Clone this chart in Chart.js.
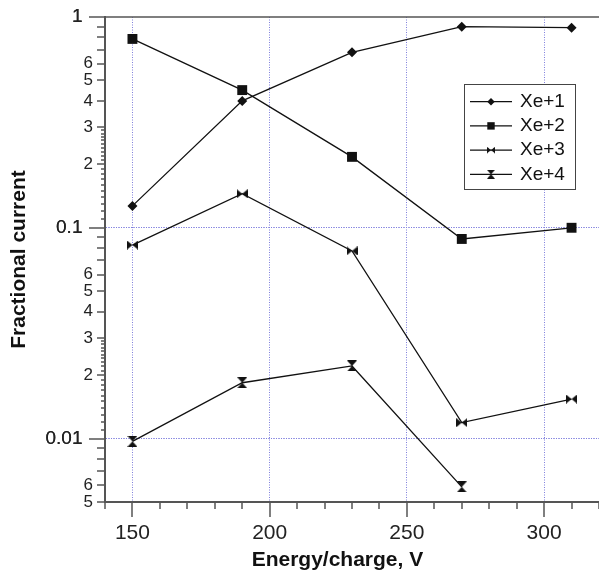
<!DOCTYPE html>
<html>
<head>
<meta charset="utf-8">
<script src="https://cdn.jsdelivr.net/npm/chart.js@4.4.0/dist/chart.umd.min.js"></script>
<style>
  html, body { margin: 0; padding: 0; background: #fff; }
  #chart { display: block; }
</style>
</head>
<body>
<canvas id="chart" width="599" height="573"></canvas>
<script>
/* ── Data ── */
const energies = [150, 190, 230, 270, 310];
const seriesNames = ['Xe+1', 'Xe+2', 'Xe+3', 'Xe+4'];
const xe1 = [0.127, 0.40, 0.68, 0.90, 0.89];
const xe2 = [0.787, 0.45, 0.217, 0.0885, 0.100];
const xe3 = [0.0828, 0.145, 0.0776, 0.0119, 0.0154];
const xe4 = [0.0097, 0.0184, 0.0221, 0.0059];

/* ── Tick labels ── */
const xLabelled = [150, 200, 250, 300];
const yDecades = [0.01, 0.1, 1];
const yMantissaLabelled = [2, 3, 4, 5, 6];

const FONT = "'Liberation Sans', Arial, sans-serif";
const GRID_BLUE = '#7f7fdc';
const AXIS = '#555';

// log ticks: decades, integer mantissas, and fine ones between 1 and 3
function buildLogTicks(min, max) {
  const out = [];
  for (let e = -3; e <= 0; e++) {
    const base = Math.pow(10, e);
    for (let m = 1; m < 10; m += 0.1) {
      const mm = Math.round(m * 10) / 10;
      const fine = mm !== Math.round(mm);
      if (fine && mm > 3) continue;
      const v = +(mm * base).toPrecision(3);
      if (v >= min - 1e-12 && v <= max + 1e-12) out.push(v);
    }
  }
  return out;
}

function mantissa(v) {
  const e = Math.floor(Math.log10(v) + 1e-9);
  return Math.round(v / Math.pow(10, e) * 10) / 10;
}
const isDecade = v => mantissa(v) === 1;

// custom point shapes
function bowtie(w, h, vertical) {
  const c = document.createElement('canvas');
  c.width = w; c.height = h;
  const g = c.getContext('2d');
  g.fillStyle = '#111';
  g.beginPath();
  if (vertical) {
    g.moveTo(0, 0); g.lineTo(w, 0); g.lineTo(w / 2, h / 2); g.closePath();
    g.moveTo(0, h); g.lineTo(w, h); g.lineTo(w / 2, h / 2); g.closePath();
  } else {
    g.moveTo(0, 0); g.lineTo(0, h); g.lineTo(w / 2, h / 2); g.closePath();
    g.moveTo(w, 0); g.lineTo(w, h); g.lineTo(w / 2, h / 2); g.closePath();
  }
  g.fill();
  return c;
}
const hBowtie = bowtie(11, 9, false);
const vBowtie = bowtie(10, 11, true);

const toPoints = ys => ys.map((y, i) => ({ x: energies[i], y }));

const datasets = [
  { label: seriesNames[0], data: toPoints(xe1), pointStyle: 'rectRot', pointRadius: 5 },
  { label: seriesNames[1], data: toPoints(xe2), pointStyle: 'rect', pointRadius: 7 },
  { label: seriesNames[2], data: toPoints(xe3), pointStyle: hBowtie, pointRadius: 5 },
  { label: seriesNames[3], data: toPoints(xe4), pointStyle: vBowtie, pointRadius: 5 },
].map(d => ({
  ...d,
  borderColor: '#111',
  backgroundColor: '#111',
  pointBackgroundColor: '#111',
  pointBorderColor: '#111',
  pointBorderWidth: 0,
  borderWidth: 1.3,
  tension: 0,
}));

/* ── Tick marks of three lengths + top frame line ── */
const tickMarks = {
  id: 'tickMarks',
  afterDraw(chart) {
    const { ctx, chartArea: a, scales: { x, y } } = chart;
    ctx.save();
    ctx.strokeStyle = AXIS;
    ctx.lineWidth = 1.5;
    ctx.beginPath();
    x.ticks.forEach(t => {
      const px = Math.round(x.getPixelForValue(t.value));
      const len = t.value % 50 === 0 ? 15 : 7;
      ctx.moveTo(px, a.bottom);
      ctx.lineTo(px, a.bottom + len);
    });
    y.ticks.forEach(t => {
      const py = Math.round(y.getPixelForValue(t.value));
      const m = mantissa(t.value);
      const len = m === 1 ? 16 : (m === Math.round(m) ? 8 : 4);
      ctx.moveTo(a.left, py);
      ctx.lineTo(a.left - len, py);
    });
    ctx.moveTo(a.left, a.top);
    ctx.lineTo(a.right, a.top);
    ctx.stroke();
    ctx.restore();
  }
};

/* ── Boxed legend inside the plot ── */
const boxLegend = {
  id: 'boxLegend',
  afterDraw(chart) {
    const ctx = chart.ctx;
    ctx.save();
    ctx.fillStyle = '#fff';
    ctx.fillRect(464, 84, 112, 105);
    ctx.strokeStyle = '#444';
    ctx.lineWidth = 1;
    ctx.strokeRect(464.5, 84.5, 111, 105);
    chart.data.datasets.forEach((ds, i) => {
      const cy = 101.7 + i * 24.2;
      ctx.strokeStyle = '#111';
      ctx.lineWidth = 1.2;
      ctx.beginPath();
      ctx.moveTo(470, cy);
      ctx.lineTo(512, cy);
      ctx.stroke();
      ctx.fillStyle = '#111';
      if (typeof ds.pointStyle === 'string') {
        Chart.helpers.drawPoint(ctx, {
          pointStyle: ds.pointStyle, rotation: 0,
          radius: ds.pointRadius * 0.75, borderWidth: 0
        }, 491, cy);
      } else {
        const img = ds.pointStyle;
        const w = img.width * 0.8, h = img.height * 0.8;
        ctx.drawImage(img, 491 - w / 2, cy - h / 2, w, h);
      }
      ctx.fillStyle = '#111';
      ctx.font = '19px ' + FONT;
      ctx.textBaseline = 'middle';
      ctx.textAlign = 'left';
      ctx.fillText(ds.label, 520, cy);
    });
    ctx.restore();
  }
};

new Chart(document.getElementById('chart'), {
  type: 'line',
  data: { datasets },
  options: {
    responsive: false,
    animation: false,
    layout: { autoPadding: false, padding: { top: 17, left: 0, right: 0, bottom: 0 } },
    plugins: { legend: { display: false }, tooltip: { enabled: false } },
    scales: {
      x: {
        type: 'linear',
        min: 140, max: 320,
        afterFit(scale) {
          scale.height = 71;
          scale.paddingLeft = 0;
          scale.paddingRight = 0;
        },
        ticks: {
          stepSize: 10,
          autoSkip: false,
          maxRotation: 0,
          padding: 19,
          color: '#222',
          font: { size: 21, family: FONT },
          callback: v => xLabelled.includes(v) ? String(v) : '',
        },
        grid: {
          drawTicks: false,
          lineWidth: 1,
          color: c => (c.tick && xLabelled.includes(c.tick.value)) ? GRID_BLUE : 'rgba(0,0,0,0)',
        },
        border: { display: true, color: AXIS, width: 2, dash: [1, 1.5] },
        title: {
          display: true,
          text: 'Energy/charge, V     ',
          color: '#111',
          font: { size: 21, weight: 'bold', family: FONT },
          padding: { top: 0, bottom: 0 },
        },
      },
      y: {
        type: 'logarithmic',
        min: 0.005, max: 1,
        afterFit(scale) {
          scale.width = 105;
          scale.paddingTop = 0;
          scale.paddingBottom = 0;
        },
        afterBuildTicks(scale) {
          scale.ticks = buildLogTicks(0.005, 1).map(v => ({ value: v }));
        },
        ticks: {
          autoSkip: false,
          padding: 12,
          color: '#222',
          font: c => ({ size: (c.tick && isDecade(c.tick.value)) ? 19 : 17, family: FONT }),
          callback: v => {
            const m = mantissa(v);
            if (yDecades.some(d => Math.abs(d - v) < 1e-9)) return String(v) + '  ';
            if (yMantissaLabelled.includes(m)) return String(m);
            return '';
          },
        },
        grid: {
          drawTicks: false,
          lineWidth: 1,
          color: c => (c.tick && yDecades.slice(0, 2).some(d => Math.abs(d - c.tick.value) < 1e-9)) ? GRID_BLUE : 'rgba(0,0,0,0)',
        },
        border: { display: true, color: AXIS, width: 2, dash: [1, 1.5] },
        title: {
          display: true,
          text: 'Fractional current',
          color: '#111',
          font: { size: 21, weight: 'bold', family: FONT },
          padding: { top: 7, bottom: 0 },
        },
      },
    },
  },
  plugins: [tickMarks, boxLegend],
});
</script>
</body>
</html>
